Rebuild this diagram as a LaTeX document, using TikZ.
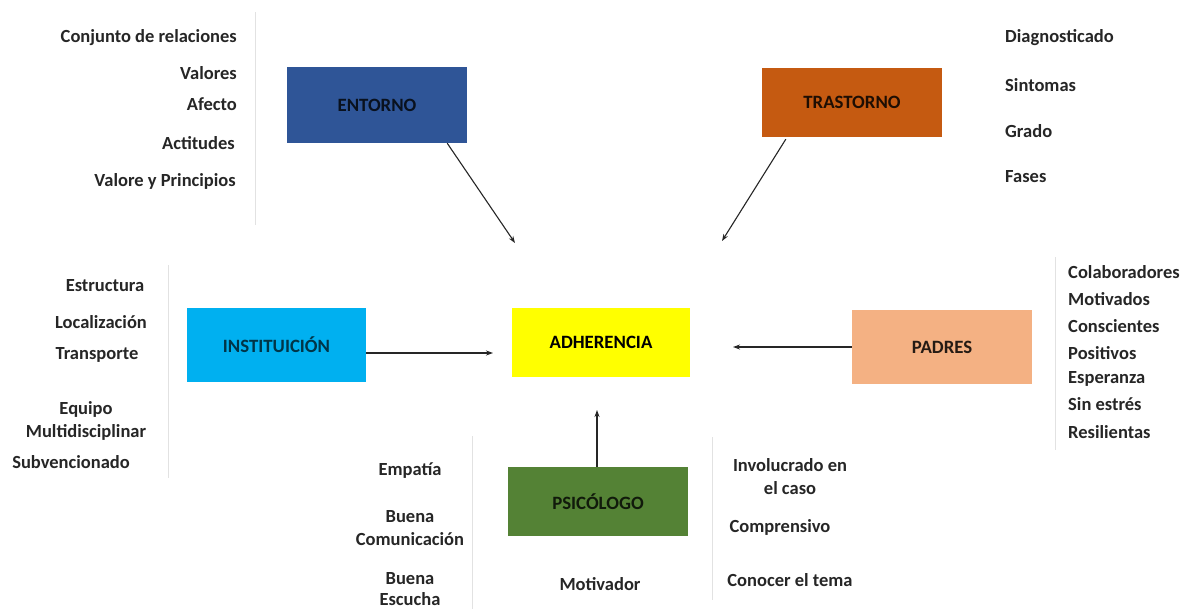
\documentclass[tikz,border=0pt]{standalone}
\usepackage{fontspec}
\setmainfont{Carlito}
\usetikzlibrary{arrows.meta}
\definecolor{cEnt}{HTML}{2F5597}
\definecolor{cTra}{HTML}{C55A11}
\definecolor{cIns}{HTML}{00B0F0}
\definecolor{cAdh}{HTML}{FFFF00}
\definecolor{cPad}{HTML}{F4B183}
\definecolor{cPsi}{HTML}{548235}
\definecolor{faint}{HTML}{E2E2E2}
\tikzset{
  box/.style={minimum width=180pt, minimum height=72pt, inner sep=0pt, font=\fontsize{18.8}{22}\selectfont\bfseries},
  lbl/.style={font=\fontsize{18.5}{23}\selectfont\bfseries, text=black!85, inner sep=0pt},
  arr/.style={-{Stealth[length=7pt,width=5pt]}, line width=1.1pt, black!85},
  thick arr/.style={-{Stealth[length=7pt,width=5pt]}, line width=2pt, black!85},
  guide/.style={draw=faint, line width=0.8pt}
}
\begin{document}
\begin{tikzpicture}[x=1pt,y=-1pt]
\useasboundingbox (0,0) rectangle (1185,611);
\fill[white] (0,0) rectangle (1185,611);
% boxes
\node[box, fill=cEnt, text=black!80!cEnt, minimum height=76pt] (ent) at (377,105) {ENTORNO};
\node[box, fill=cTra, text=black!85!cTra, minimum height=69pt] (tra) at (852,102.5) {TRASTORNO};
\node[box, fill=cIns, text=black!70!cIns, minimum width=179pt, minimum height=74pt] (ins) at (276.5,345) {INSTITUICIÓN};
\node[box, fill=cAdh, text=black, minimum width=178pt, minimum height=69pt] (adh) at (601,342.5) {ADHERENCIA};
\node[box, fill=cPad, text=black!85!cPad, minimum height=74pt] (pad) at (942,347) {PADRES};
\node[box, fill=cPsi, text=black!80!cPsi, minimum height=69pt] (psi) at (598,501.5) {PSICÓLOGO};
% arrow ends
\coordinate (e1) at (515,243);
\coordinate (e2) at (722,241);
\coordinate (e3) at (493,353);
\coordinate (e4) at (733,347);
\coordinate (e5) at (597,410);
\draw[arr] (ent.south east) ++(-20,0) coordinate (s1) -- (e1);
\draw[arr] (tra.south west) ++(24,2) coordinate (s2) -- (e2);
\draw[arr] (ins.east |- e3) -- (e3);
\draw[thick arr] (pad.west |- e4) -- (e4);
\draw[thick arr] (psi.north -| e5) -- (e5);
% faint guide lines
\draw[guide] (255,12) -- (255,225);
\draw[guide] (168,265) -- (168,478);
\draw[guide] (1055,257) -- (1055,450);
\draw[guide] (472,436) -- (472,609);
\draw[guide] (712,437) -- (712,600);
% top-left list
\node[lbl, anchor=east] (t1) at (237,38) {Conjunto de relaciones};
\node[lbl, anchor=east] (t2) at (237,73) {Valores};
\node[lbl, anchor=east] (t3) at (237,104) {Afecto};
\node[lbl, anchor=east] (t4) at (235,143) {Actitudes};
\node[lbl, anchor=east] (t5) at (236,181) {Valore y Principios};
% top-right list
\node[lbl, anchor=west] (r1) at (1005,38) {Diagnosticado};
\node[lbl, anchor=west] (r2) at (1005,85) {Sintomas};
\node[lbl, anchor=west] (r3) at (1005,131) {Grado};
\node[lbl, anchor=west] (r4) at (1005,177) {Fases};
% middle-left list
\node[lbl] (m1) at (105,286) {Estructura};
\node[lbl] (m2) at (101,322) {Localización};
\node[lbl] (m3) at (97,355) {Transporte};
\node[lbl] (m4) at (86,409) {Equipo};
\node[lbl] (m5) at (86,432) {Multidisciplinar};
\node[lbl] (m6) at (71,462) {Subvencionado};
% middle-right list
\node[lbl, anchor=west] (p1) at (1068,272) {Colaboradores};
\node[lbl, anchor=west] (p2) at (1068,299) {Motivados};
\node[lbl, anchor=west] (p3) at (1068,326) {Conscientes};
\node[lbl, anchor=west] (p4) at (1068,353) {Positivos};
\node[lbl, anchor=west] (p5) at (1068,379) {Esperanza};
\node[lbl, anchor=west] (p6) at (1068,404) {Sin estrés};
\node[lbl, anchor=west] (p7) at (1068,432) {Resilientas};
% bottom-left list
\node[lbl] (b1) at (410,471) {Empatía};
\node[lbl, align=center] (b2) at (410,528) {Buena\\Comunicación};
\node[lbl, align=center, font=\fontsize{18.5}{21}\selectfont\bfseries] (b3) at (410,589) {Buena\\Escucha};
% bottom-middle
\node[lbl] (b4) at (600,584) {Motivador};
% bottom-right list
\node[lbl, align=center] (c1) at (790,477) {Involucrado en\\el caso};
\node[lbl] (c2) at (780,527) {Comprensivo};
\node[lbl] (c3) at (790,580) {Conocer el tema};
\end{tikzpicture}
\end{document}
